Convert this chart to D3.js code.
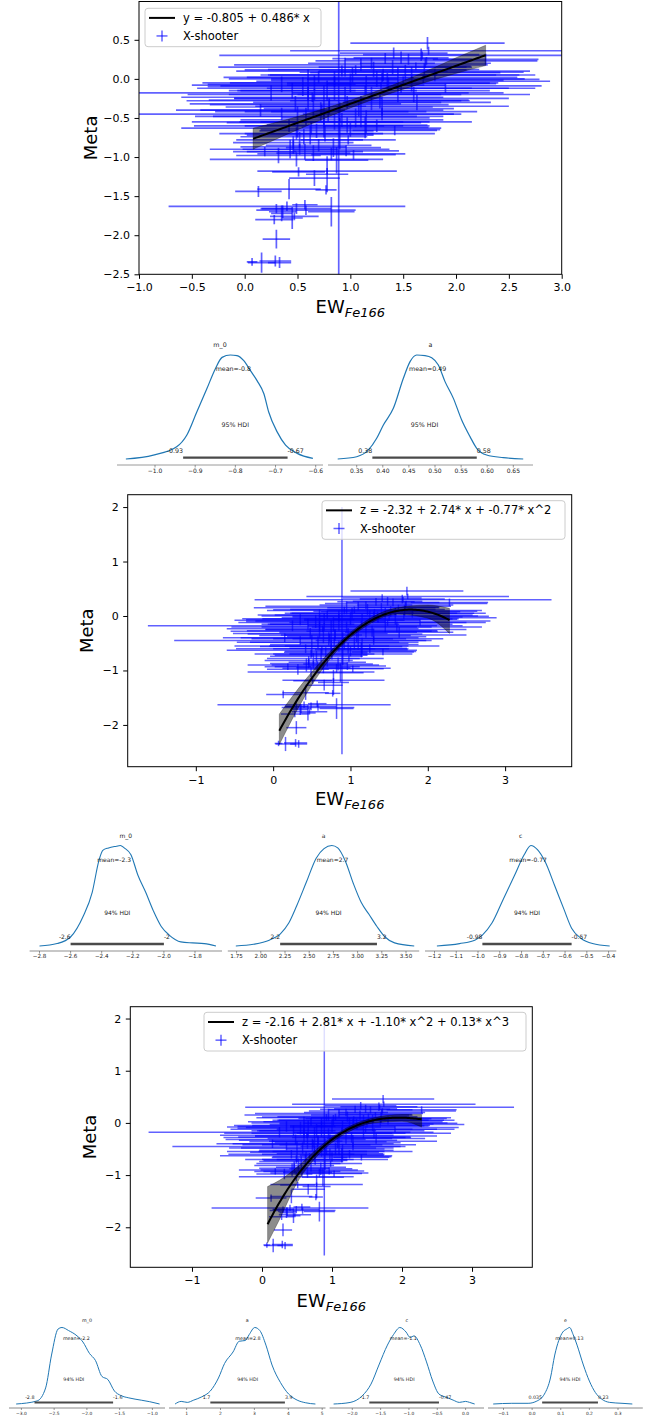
<!DOCTYPE html>
<html>
<head>
<meta charset="utf-8">
<script src="https://cdn.jsdelivr.net/npm/d3@7"></script>
<style>
  body { margin: 0; background: #fff; }
  text { font-family: "DejaVu Sans", sans-serif; }
</style>
</head>
<body>
<svg id="fig" width="646" height="1420"></svg>
<script>
// ---- X-shooter sample: equivalent width (EW_Fe166) vs metallicity, with errors ----
const ew = [1.73,1.68,1.74,1.41,1.48,1.67,1.72,1.71,1.62,1.05,1.58,1.31,1.30,1.69,1.50,1.36,1.29,1.48,1.14,0.25,
  0.66,0.64,0.89,0.97,0.80,0.80,0.73,0.35,0.79,0.92,0.75,0.97,0.63,0.68,0.49,0.56,0.46,0.46,0.52,0.57,
  0.82,0.49,0.51,0.78,0.66,0.78,0.13,0.42,0.77,0.40,0.30,0.49,0.58,0.36,0.82,0.57,0.45,0.28,0.47,0.35,
  0.30,0.07,0.16,0.29,0.33,0.32,0.19,0.43,0.65,0.70,0.84,0.96,1.03,1.14,0.87,0.55,0.60,0.66,0.72,0.78,
  0.85,0.95,1.02,1.08,1.15,1.22,1.28,1.35,1.40,1.45,1.52,1.58,1.63,1.20,1.10,0.92,0.70,0.48,0.58,0.42,
  0.52,0.62,0.76,0.98,1.05,1.30,1.42,1.25,0.35,0.15,1.80,1.90,1.55,1.33,0.85,0.65,0.75,0.45,1.00,0.90,2.28,
  1.20,1.00,1.45,0.85,1.10,0.60,1.30,0.95,1.60,0.75,1.15,0.50,1.70,1.25,0.90];
const ewErr = [0.73,1.92,1.31,0.51,0.45,0.55,1.05,0.62,0.52,1.05,1.06,1.07,1.28,1.10,1.39,0.96,1.52,1.27,1.18,1.87,
  1.20,1.24,1.23,0.89,1.13,0.98,1.15,1.63,1.09,0.96,0.92,0.76,1.23,0.54,0.73,0.60,0.57,0.50,0.85,0.55,
  0.70,0.82,0.25,0.66,0.24,0.20,0.22,0.30,0.10,1.12,0.15,0.33,0.47,0.13,0.22,0.12,0.10,0.18,0.23,0.10,
  0.13,0.05,0.13,0.15,0.11,0.40,0.30,0.45,0.35,0.50,0.45,0.50,0.40,0.60,0.30,0.90,0.70,0.80,1.00,0.85,
  0.90,1.10,0.80,0.90,0.75,1.00,0.85,1.10,0.70,1.00,0.90,0.80,0.70,0.60,1.20,1.00,0.90,1.00,1.05,0.90,
  0.60,0.60,0.55,0.45,0.70,0.75,0.40,0.50,0.70,0.80,0.80,0.60,0.60,0.50,0.60,0.50,0.75,0.60,0.85,0.65,0.50,
  1.30,1.40,1.30,1.30,1.10,1.10,1.20,1.20,1.10,1.30,1.00,1.00,1.00,1.40,0.90];
const meta = [0.457,0.30,0.36,0.33,0.27,0.31,0.23,0.20,0.16,0.115,0.085,0.05,0.02,-0.005,-0.03,-0.055,-0.09,-0.12,-0.15,-0.18,
  -0.20,-0.235,-0.27,-0.30,-0.33,-0.36,-0.40,-0.45,-0.48,-0.525,-0.56,-0.59,-0.63,-0.665,-0.70,-0.74,-0.815,-0.87,-0.90,-0.93,
  -0.96,-1.03,-1.19,-1.18,-1.27,-1.22,-1.44,-1.41,-1.42,-1.63,-1.66,-1.66,-1.68,-1.70,-1.70,-1.61,-1.78,-1.80,-1.76,-1.72,
  -2.05,-2.34,-2.35,-2.33,-2.35,-0.98,-0.93,-0.90,-0.95,-0.85,-0.88,-0.92,-0.97,-0.62,-1.04,-0.10,-0.25,-0.05,-0.42,-0.15,
  -0.55,-0.20,0.05,-0.38,-0.08,0.12,-0.28,-0.02,0.15,-0.18,0.08,-0.06,-0.30,0.20,0.18,0.10,0.02,-0.32,-0.48,-0.60,
  -0.78,-0.72,-0.70,-0.78,-0.50,-0.45,-0.66,-0.60,-0.07,-0.40,0.05,-0.12,0.25,0.26,0.00,-0.35,-0.60,-0.15,-0.65,-0.42,0.25,
  -0.25,-0.05,0.05,-0.12,-0.42,-0.08,-0.35,0.15,-0.20,-0.28,-0.55,-0.55,0.10,0.00,-0.70];
const metaErr = [0.08,0.05,0.05,0.07,0.08,0.08,0.05,0.06,0.05,0.06,0.07,0.08,0.06,0.05,0.06,0.07,0.05,0.06,0.06,0.10,
  0.07,0.06,2.27,0.08,0.09,0.10,0.07,0.08,0.07,0.09,0.06,0.10,0.08,0.09,0.08,0.10,0.08,0.09,0.07,0.10,
  0.08,0.09,0.06,0.04,0.10,0.23,0.07,0.13,0.06,0.06,0.06,0.07,0.06,0.08,0.19,0.06,0.14,0.06,0.05,0.10,
  0.12,0.05,0.13,0.07,0.07,0.10,0.06,0.12,0.10,0.08,0.12,0.07,0.06,0.14,0.17,0.12,0.15,0.10,0.12,0.13,
  0.10,0.10,0.10,0.10,0.12,0.10,0.10,0.10,0.09,0.12,0.10,0.10,0.10,0.07,0.08,0.07,0.08,0.10,0.11,0.08,
  0.10,0.12,0.10,0.06,0.12,0.08,0.06,0.08,0.10,0.08,0.08,0.06,0.07,0.07,0.10,0.15,0.15,0.10,0.09,0.12,0.07,
  0.15,0.12,0.10,0.15,0.20,0.20,0.12,0.12,0.10,0.20,0.15,0.20,0.10,0.10,0.20];

// ---- fitted models (posterior means) ----
const linCoef = [-0.805, 0.486];
const quadCoef = [-2.32, 2.74, -0.77];
const cubCoef = [-2.16, 2.81, -1.10, 0.13];

// ---- HDI bands of the fitted curves ----
const linBandX = [0.08, 0.4, 0.8, 1.2, 1.6, 2.0, 2.28];
const linBandLo = [-0.90, -0.71, -0.48, -0.27, -0.09, 0.07, 0.17];
const linBandHi = [-0.63, -0.52, -0.36, -0.18, 0.03, 0.27, 0.43];
const quadBandX = [0.08, 0.4, 0.8, 1.2, 1.6, 2.0, 2.28];
const quadBandLo = [-2.36, -1.50, -0.68, -0.19, 0.03, -0.04, -0.32];
const quadBandHi = [-1.80, -1.20, -0.56, -0.09, 0.15, 0.20, 0.14];
const cubBandX = [0.08, 0.25, 0.5, 0.8, 1.2, 1.6, 2.0, 2.28];
const cubBandLo = [-2.30, -1.85, -1.15, -0.62, -0.20, 0.00, 0.03, -0.08];
const cubBandHi = [-1.22, -1.10, -0.85, -0.48, -0.10, 0.10, 0.16, 0.16];

// ---- axis tick values ----
const fit1XTicks = [-1.0, -0.5, 0.0, 0.5, 1.0, 1.5, 2.0, 2.5, 3.0];
const fit1YTicks = [-2.5, -2.0, -1.5, -1.0, -0.5, 0.0, 0.5];
const fitXTicks = [-1, 0, 1, 2, 3];
const fitYTicks = [-2, -1, 0, 1, 2];

// ---- posterior densities: [parameter value, density relative to peak] ----
const kdeLinM0 = [[-1.0725,0],[-1.004,0.038],[-0.946,0.118],[-0.921,0.229],[-0.896,0.452],[-0.871,0.675],[-0.85,0.866],
  [-0.833,0.977],[-0.8125,1.0],[-0.796,0.994],[-0.779,0.946],[-0.7625,0.85],[-0.746,0.754],[-0.729,0.627],[-0.717,0.452],
  [-0.696,0.261],[-0.675,0.134],[-0.646,0.054],[-0.607,0.006]];
const kdeLinA = [[0.3136,0],[0.35,0.022],[0.3724,0.087],[0.3883,0.199],[0.4011,0.327],[0.4202,0.487],[0.4394,0.776],
  [0.4522,0.936],[0.4649,1.0],[0.4809,0.994],[0.4937,0.974],[0.5064,0.904],[0.5192,0.744],[0.5352,0.583],[0.5511,0.375],
  [0.5671,0.215],[0.5799,0.103],[0.599,0.038],[0.631,0.013],[0.669,0]];
const kdeQuadM0 = [[-2.8,0],[-2.687,0.024],[-2.599,0.092],[-2.519,0.296],[-2.461,0.534],[-2.418,0.85],[-2.393,0.952],
  [-2.356,0.976],[-2.305,0.993],[-2.28,1.0],[-2.255,0.976],[-2.212,0.908],[-2.167,0.704],[-2.117,0.534],[-2.067,0.347],
  [-2.017,0.194],[-1.966,0.109],[-1.891,0.041],[-1.816,0.031],[-1.74,0.024],[-1.665,0]];
const kdeQuadA = [[1.742,0],[1.925,0.017],[2.087,0.058],[2.2,0.119],[2.289,0.228],[2.37,0.398],[2.471,0.636],[2.572,0.874],
  [2.653,0.969],[2.734,1.0],[2.795,0.976],[2.876,0.839],[2.957,0.619],[3.038,0.432],[3.119,0.313],[3.2,0.194],
  [3.281,0.092],[3.382,0.031],[3.585,0]];
const kdeQuadC = [[-1.189,0],[-1.085,0.024],[-1.015,0.058],[-0.98,0.109],[-0.936,0.228],[-0.884,0.466],[-0.832,0.704],
  [-0.788,0.908],[-0.757,1.0],[-0.727,0.959],[-0.692,0.84],[-0.648,0.602],[-0.605,0.364],[-0.57,0.177],[-0.526,0.075],
  [-0.474,0.024],[-0.395,0]];
const kdeCubM0 = [[-3.08,0],[-2.76,0.04],[-2.63,0.21],[-2.54,0.64],[-2.44,0.98],[-2.38,1.0],[-2.28,0.96],[-2.15,0.89],
  [-2.06,0.81],[-1.96,0.66],[-1.87,0.57],[-1.77,0.36],[-1.68,0.32],[-1.58,0.17],[-1.48,0.11],[-1.36,0.08],
  [-1.17,0.05],[-1.04,0.03],[-0.89,0]];
const kdeCubA = [[0.66,0],[0.84,0.034],[1.02,0.021],[1.21,0.051],[1.45,0.094],[1.70,0.17],[1.94,0.34],[2.12,0.53],
  [2.37,0.68],[2.55,0.82],[2.73,0.83],[2.85,0.91],[3.01,1.0],[3.16,0.96],[3.34,0.77],[3.52,0.51],[3.77,0.28],
  [4.01,0.13],[4.26,0.051],[4.5,0.017],[4.8,0]];
const kdeCubC = [[-2.33,0],[-2.04,0.02],[-1.82,0.11],[-1.67,0.26],[-1.53,0.51],[-1.38,0.77],[-1.27,0.91],[-1.16,1.0],
  [-1.05,0.94],[-0.98,0.87],[-0.91,0.89],[-0.8,0.77],[-0.69,0.55],[-0.58,0.30],[-0.47,0.13],[-0.33,0.085],
  [-0.22,0.051],[-0.11,0.021],[0.0,0.034],[0.07,0.021],[0.16,0]];
const kdeCubE = [[-0.136,0],[-0.071,0.009],[-0.014,0.009],[0.014,0.034],[0.043,0.13],[0.064,0.34],[0.079,0.64],
  [0.093,0.83],[0.107,0.94],[0.121,0.98],[0.131,1.0],[0.143,0.91],[0.157,0.77],[0.179,0.51],[0.2,0.30],
  [0.221,0.15],[0.243,0.064],[0.271,0.021],[0.314,0.009],[0.35,0]];

// ---- posterior summaries: [mean, hdi low, hdi high] and their printed labels ----
const sumLin = { m_0: [-0.805, -0.93, -0.67], a: [0.486, 0.38, 0.58] };
const sumLinText = { m_0: ["-0.8", "-0.93", "-0.67"], a: ["0.49", "0.38", "0.58"] };
const sumQuad = { m_0: [-2.32, -2.6, -2.0], a: [2.74, 2.2, 3.2], c: [-0.77, -0.98, -0.57] };
const sumQuadText = { m_0: ["-2.3", "-2.6", "-2"], a: ["2.7", "2.2", "3.2"], c: ["-0.77", "-0.98", "-0.57"] };
const sumCub = { m_0: [-2.16, -2.8, -1.6], a: [2.81, 1.7, 3.9], c: [-1.10, -1.7, -0.47], e: [0.13, 0.035, 0.23] };
const sumCubText = { m_0: ["-2.2", "-2.8", "-1.6"], a: ["2.8", "1.7", "3.9"], c: ["-1.1", "-1.7", "-0.47"], e: ["0.13", "0.035", "0.23"] };

// posterior tick values
const tLinM0 = [-1.0, -0.9, -0.8, -0.7, -0.6];
const tLinA = [0.35, 0.40, 0.45, 0.50, 0.55, 0.60, 0.65];
const tQuadM0 = [-2.8, -2.6, -2.4, -2.2, -2.0, -1.8];
const tQuadA = [1.75, 2.00, 2.25, 2.50, 2.75, 3.00, 3.25, 3.50];
const tQuadC = [-1.2, -1.1, -1.0, -0.9, -0.8, -0.7, -0.6, -0.5, -0.4];
const tCubM0 = [-3.0, -2.5, -2.0, -1.5, -1.0];
const tCubA = [1, 2, 3, 4, 5];
const tCubC = [-2.0, -1.5, -1.0, -0.5, 0.0];
const tCubE = [-0.1, 0.0, 0.1, 0.2, 0.3];

// =====================================================================
const svg = d3.select("#fig");
svg.append("rect").attr("width", 646).attr("height", 1420).attr("fill", "#fff");

const polyVal = (c, v) => c.reduce((s, ci, i) => s + ci * Math.pow(v, i), 0);

function drawFit(cfg) {
  const g = svg.append("g");
  let xDom = cfg.xDomain, yDom = cfg.yDomain;
  if (!xDom) {
    const lo = d3.min(ew, (d, i) => d - ewErr[i]), hi = d3.max(ew, (d, i) => d + ewErr[i]);
    const m = (hi - lo) * 0.05; xDom = [lo - m, hi + m];
  }
  if (!yDom) {
    const lo = d3.min(meta, (d, i) => d - metaErr[i]), hi = d3.max(meta, (d, i) => d + metaErr[i]);
    const m = (hi - lo) * 0.05; yDom = [lo - m, hi + m];
  }
  const x = d3.scaleLinear().domain(xDom).range([cfg.left, cfg.right]);
  const y = d3.scaleLinear().domain(yDom).range([cfg.bottom, cfg.top]);

  const clipId = "clip-" + cfg.id;
  g.append("clipPath").attr("id", clipId).append("rect")
    .attr("x", cfg.left).attr("y", cfg.top)
    .attr("width", cfg.right - cfg.left).attr("height", cfg.bottom - cfg.top);
  const plot = g.append("g").attr("clip-path", `url(#${clipId})`);

  // error bars
  const idx = d3.range(ew.length);
  const eb = plot.append("g").attr("stroke", "#0000ff").attr("stroke-opacity", 0.62)
    .attr("stroke-width", cfg.ebWidth);
  eb.selectAll("line.h").data(idx).join("line").attr("class", "h")
    .attr("x1", i => x(ew[i] - ewErr[i])).attr("x2", i => x(ew[i] + ewErr[i]))
    .attr("y1", i => y(meta[i])).attr("y2", i => y(meta[i]));
  eb.selectAll("line.v").data(idx).join("line").attr("class", "v")
    .attr("x1", i => x(ew[i])).attr("x2", i => x(ew[i]))
    .attr("y1", i => y(meta[i] - metaErr[i])).attr("y2", i => y(meta[i] + metaErr[i]));

  // HDI band
  const area = d3.area()
    .x(i => x(cfg.bandX[i])).y0(i => y(cfg.bandLo[i])).y1(i => y(cfg.bandHi[i]))
    .curve(d3.curveMonotoneX);
  plot.append("path").attr("d", area(d3.range(cfg.bandX.length)))
    .attr("fill", "#000").attr("fill-opacity", 0.45)
    .attr("stroke", "#000").attr("stroke-opacity", 0.35).attr("stroke-width", 0.8);

  // fitted curve
  const x0 = cfg.bandX[0], x1 = cfg.bandX[cfg.bandX.length - 1];
  const xs = d3.range(0, 101).map(k => x0 + (x1 - x0) * k / 100);
  plot.append("path")
    .attr("d", d3.line().x(v => x(v)).y(v => y(polyVal(cfg.coef, v)))(xs))
    .attr("fill", "none").attr("stroke", "#000").attr("stroke-width", 2);

  // frame
  g.append("rect").attr("x", cfg.left).attr("y", cfg.top)
    .attr("width", cfg.right - cfg.left).attr("height", cfg.bottom - cfg.top)
    .attr("fill", "none").attr("stroke", "#000").attr("stroke-width", 1);

  // axes
  const xAxis = d3.axisBottom(x).tickValues(cfg.xTicks).tickFormat(cfg.fmt)
    .tickSize(4.5).tickPadding(4.6).tickSizeOuter(0);
  const ax = g.append("g").attr("transform", `translate(0,${cfg.bottom})`).call(xAxis);
  const yAxis = d3.axisLeft(y).tickValues(cfg.yTicks).tickFormat(cfg.fmt)
    .tickSize(4.5).tickPadding(4.5).tickSizeOuter(0);
  const ay = g.append("g").attr("transform", `translate(${cfg.left},0)`).call(yAxis);
  [ax, ay].forEach(a => {
    a.select(".domain").remove();
    a.selectAll("line").attr("stroke", "#000").attr("stroke-width", 1);
    a.selectAll("text").attr("font-family", "DejaVu Sans").attr("font-size", 11).attr("fill", "#000");
  });

  // axis labels
  g.append("text").attr("transform", `translate(${cfg.ylabelX},${(cfg.top + cfg.bottom) / 2}) rotate(-90)`)
    .attr("text-anchor", "middle").attr("font-size", 18).text("Meta");
  const xl = g.append("text").attr("x", (cfg.left + cfg.right) / 2).attr("y", cfg.xlabelY)
    .attr("text-anchor", "middle").attr("font-size", 18);
  xl.append("tspan").text("EW");
  xl.append("tspan").attr("font-size", 13).attr("font-style", "italic").attr("dy", 4).text("Fe166");

  // legend
  const L = cfg.legend;
  const lg = g.append("g");
  lg.append("rect").attr("x", L.x0).attr("y", L.y0).attr("width", L.x1 - L.x0).attr("height", L.y1 - L.y0)
    .attr("rx", 3).attr("fill", "#fff").attr("fill-opacity", 0.8)
    .attr("stroke", "#cccccc").attr("stroke-width", 1);
  const r1 = L.y0 + (L.y1 - L.y0) * 0.25, r2 = L.y0 + (L.y1 - L.y0) * 0.72;
  lg.append("line").attr("x1", L.x0 + 4).attr("x2", L.x0 + 30).attr("y1", r1).attr("y2", r1)
    .attr("stroke", "#000").attr("stroke-width", 2);
  const cx = L.x0 + 17;
  lg.append("line").attr("x1", cx - 5.5).attr("x2", cx + 5.5).attr("y1", r2).attr("y2", r2)
    .attr("stroke", "#0000ff").attr("stroke-opacity", 0.62).attr("stroke-width", 1.5);
  lg.append("line").attr("x1", cx).attr("x2", cx).attr("y1", r2 - 5.5).attr("y2", r2 + 5.5)
    .attr("stroke", "#0000ff").attr("stroke-opacity", 0.62).attr("stroke-width", 1.5);
  lg.append("text").attr("x", L.x0 + 38).attr("y", r1).attr("dy", "0.36em").attr("font-size", 11.5)
    .text(cfg.legendText);
  lg.append("text").attr("x", L.x0 + 38).attr("y", r2).attr("dy", "0.36em").attr("font-size", 11.5)
    .text("X-shooter");
}

const fmt1 = d3.format(".1f");
const fmt0 = d3.format("d");

drawFit({
  id: "lin", left: 139, right: 561.7, top: 1.5, bottom: 274.3,
  xDomain: [-1, 3], yDomain: [-2.5, 0.99],
  xTicks: fit1XTicks, yTicks: fit1YTicks, fmt: fmt1,
  coef: linCoef, bandX: linBandX, bandLo: linBandLo, bandHi: linBandHi,
  ebWidth: 1.7, ylabelX: 97, xlabelY: 313,
  legend: { x0: 145, y0: 8.3, x1: 321, y1: 46.7 },
  legendText: "y = -0.805 + 0.486* x"
});

drawFit({
  id: "quad", left: 127.7, right: 571.7, top: 494.7, bottom: 766.7,
  xTicks: fitXTicks, yTicks: fitYTicks, fmt: fmt0,
  coef: quadCoef, bandX: quadBandX, bandLo: quadBandLo, bandHi: quadBandHi,
  ebWidth: 1.5, ylabelX: 93, xlabelY: 805,
  legend: { x0: 322, y0: 500.7, x1: 565, y1: 539.3 },
  legendText: "z = -2.32 + 2.74* x + -0.77* x^2"
});

drawFit({
  id: "cub", left: 130.3, right: 532.3, top: 1006.7, bottom: 1267.3,
  xTicks: fitXTicks, yTicks: fitYTicks, fmt: fmt0,
  coef: cubCoef, bandX: cubBandX, bandLo: cubBandLo, bandHi: cubBandHi,
  ebWidth: 1.5, ylabelX: 96, xlabelY: 1306.7,
  legend: { x0: 204, y0: 1012.3, x1: 526, y1: 1051 },
  legendText: "z = -2.16 + 2.81* x + -1.10* x^2 + 0.13* x^3"
});

// ---- posterior panels ----
function drawPosterior(row, p) {
  const g = svg.append("g");
  const x = d3.scaleLinear().domain([p.a0[0], p.a1[0]]).range([p.a0[1], p.a1[1]]);
  const h = d3.scaleLinear().domain([0, 1]).range([row.base, row.peak]);
  const fs = row.fs;

  // x axis spine + ticks
  g.append("line").attr("x1", p.axis[0]).attr("x2", p.axis[1]).attr("y1", row.axis).attr("y2", row.axis)
    .attr("stroke", row.axisColor).attr("stroke-width", row.axisWidth);
  const tk = g.selectAll("g.tk").data(p.ticks).join("g").attr("class", "tk")
    .attr("transform", d => `translate(${x(d)},${row.axis})`);
  tk.append("line").attr("y1", 0).attr("y2", row.tickLen).attr("stroke", "#555").attr("stroke-width", 0.6);
  tk.append("text").attr("y", row.tickLabel - row.axis).attr("dy", "0.35em").attr("text-anchor", "middle")
    .attr("font-size", row.tickFs).attr("fill", "#222").text(d => p.fmt(d));

  // density curve
  g.append("path")
    .attr("d", d3.line().x(d => x(d[0])).y(d => h(d[1])).curve(d3.curveMonotoneX)(p.kde))
    .attr("fill", "none").attr("stroke", "#1f77b4").attr("stroke-width", row.kdeWidth);

  // HDI bar and labels
  g.append("line").attr("x1", x(p.sum[1])).attr("x2", x(p.sum[2])).attr("y1", row.bar).attr("y2", row.bar)
    .attr("stroke", "#4a4a4a").attr("stroke-width", row.barWidth);
  g.append("text").attr("x", x(p.sum[1])).attr("y", row.hdiLabel).attr("dy", "0.35em")
    .attr("text-anchor", "end").attr("font-size", fs).attr("fill", "#222").text(p.txt[1]);
  g.append("text").attr("x", x(p.sum[2])).attr("y", row.hdiLabel).attr("dy", "0.35em")
    .attr("text-anchor", "start").attr("font-size", fs).attr("fill", "#222").text(p.txt[2]);
  g.append("text").attr("x", x((p.sum[1] + p.sum[2]) / 2)).attr("y", row.hdiText).attr("dy", "0.35em")
    .attr("text-anchor", "middle").attr("font-size", fs).attr("fill", "#222").text(row.hdiName);

  // mean and title
  g.append("text").attr("x", x(p.sum[0])).attr("y", row.mean).attr("dy", "0.35em")
    .attr("text-anchor", "middle").attr("font-size", fs).attr("fill", "#222").text("mean=" + p.txt[0]);
  g.append("text").attr("x", (p.axis[0] + p.axis[1]) / 2).attr("y", row.title).attr("dy", "0.35em")
    .attr("text-anchor", "middle").attr("font-size", fs).attr("fill", "#222").text(p.name);
}

const fmt2 = d3.format(".2f");

const row1 = { title: 345, peak: 355, mean: 369, hdiText: 425, hdiLabel: 451, bar: 457.7, base: 459,
  axis: 465, tickLabel: 471, fs: 6.3, tickFs: 6, tickLen: 2.5, kdeWidth: 1.2, barWidth: 2.2,
  axisColor: "#9a9a9a", axisWidth: 1, hdiName: "95% HDI" };
drawPosterior(row1, { name: "m_0", kde: kdeLinM0, sum: sumLin.m_0, txt: sumLinText.m_0,
  a0: [-1.0, 155], a1: [-0.6, 315.7], axis: [117, 323], ticks: tLinM0, fmt: fmt1 });
drawPosterior(row1, { name: "a", kde: kdeLinA, sum: sumLin.a, txt: sumLinText.a,
  a0: [0.35, 356.7], a1: [0.65, 513.3], axis: [328, 533], ticks: tLinA, fmt: fmt2 });

const row2 = { title: 836, peak: 845.5, mean: 860, hdiText: 913, hdiLabel: 937, bar: 944, base: 946,
  axis: 951, tickLabel: 956.5, fs: 6, tickFs: 5.6, tickLen: 2.5, kdeWidth: 1.1, barWidth: 2.5,
  axisColor: "#b5b5b5", axisWidth: 1.6, hdiName: "94% HDI" };
drawPosterior(row2, { name: "m_0", kde: kdeQuadM0, sum: sumQuad.m_0, txt: sumQuadText.m_0,
  a0: [-2.8, 39.5], a1: [-1.8, 195], axis: [29.6, 222], ticks: tQuadM0, fmt: fmt1 });
drawPosterior(row2, { name: "a", kde: kdeQuadA, sum: sumQuad.a, txt: sumQuadText.a,
  a0: [1.75, 236.6], a1: [3.5, 406], axis: [227.8, 419.2], ticks: tQuadA, fmt: fmt2 });
drawPosterior(row2, { name: "c", kde: kdeQuadC, sum: sumQuad.c, txt: sumQuadText.c,
  a0: [-1.2, 434.5], a1: [-0.4, 608.6], axis: [425, 616.3], ticks: tQuadC, fmt: fmt1 });

const row3 = { title: 1320, peak: 1327.5, mean: 1338, hdiText: 1379, hdiLabel: 1397.5, bar: 1402.5, base: 1404,
  axis: 1408, tickLabel: 1413.5, fs: 4.8, tickFs: 4.4, tickLen: 2, kdeWidth: 1, barWidth: 2,
  axisColor: "#8a8a8a", axisWidth: 1, hdiName: "94% HDI" };
drawPosterior(row3, { name: "m_0", kde: kdeCubM0, sum: sumCub.m_0, txt: sumCubText.m_0,
  a0: [-3.0, 21.4], a1: [-1.0, 152.4], axis: [9, 165], ticks: tCubM0, fmt: fmt1 });
drawPosterior(row3, { name: "a", kde: kdeCubA, sum: sumCub.a, txt: sumCubText.a,
  a0: [1, 186.6], a1: [5, 322.2], axis: [169, 325.5], ticks: tCubA, fmt: fmt0 });
drawPosterior(row3, { name: "c", kde: kdeCubC, sum: sumCub.c, txt: sumCubText.c,
  a0: [-2.0, 352.3], a1: [0.0, 465.6], axis: [329.6, 484], ticks: tCubC, fmt: fmt1 });
drawPosterior(row3, { name: "e", kde: kdeCubE, sum: sumCub.e, txt: sumCubText.e,
  a0: [-0.1, 503.5], a1: [0.3, 618], axis: [488, 642.8], ticks: tCubE, fmt: fmt1 });
</script>
</body>
</html>
